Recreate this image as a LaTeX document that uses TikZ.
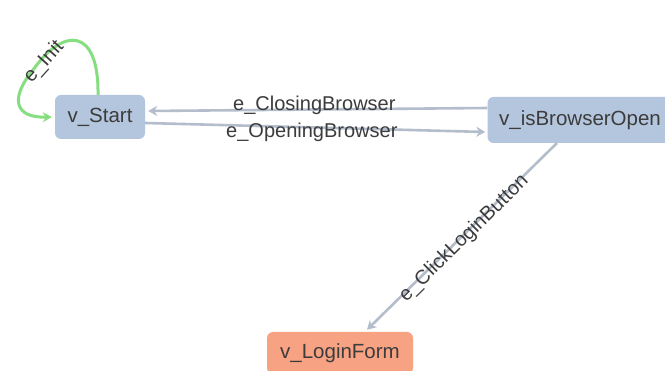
\documentclass[tikz,border=0pt]{standalone}
\usepackage{fontspec}
\setmainfont{Liberation Sans}
\usetikzlibrary{arrows.meta,calc}
\definecolor{vblue}{HTML}{B4C6DD}
\definecolor{vorange}{HTML}{F7A282}
\definecolor{edgegrey}{HTML}{B3BDCB}
\definecolor{initgreen}{HTML}{86DE80}
\definecolor{labelgrey}{HTML}{3C3C3C}
\tikzset{
  vertex/.style={rounded corners=6pt, inner sep=0pt, minimum height=44pt,
    text=labelgrey, font=\fontsize{20.5}{24}\selectfont},
  edge/.style={draw=edgegrey, line width=2.6pt, -{Stealth[length=9pt,width=10pt]}},
  initedge/.style={draw=initgreen, line width=3pt, -{Stealth[length=9pt,width=10pt]}},
  elabel/.style={text=labelgrey, font=\fontsize{20}{24}\selectfont, inner sep=0pt}
}
\begin{document}
\begin{tikzpicture}[x=1pt,y=-1pt]
  \useasboundingbox (0,0) rectangle (665,371);
  \fill[white] (0,0) rectangle (665,371);

  % states
  \node[vertex, fill=vblue, minimum width=90pt] (s) at (100,117) {v\_Start};
  \node[vertex, fill=vblue, minimum width=185pt, minimum height=46pt] (b) at (580,120) {v\_isBrowserOpen};
  \node[vertex, fill=vorange, minimum width=146pt, minimum height=42pt] (l) at (340,353) {v\_LoginForm};

  % self loop on the start state
  \coordinate (loopA) at (33,70);
  \draw[initedge] ([xshift=-2pt]s.north) .. controls (99,28) and (64,26) .. (loopA)
        .. controls (10,98) and (14,118) .. ([xshift=-3pt]s.west);
  \node[elabel, rotate=48] (init) at (44,62) {e\_Init};

  % transitions between start and browser states
  \draw[edge] ([yshift=12pt]b.west) -- ([yshift=6pt,xshift=3pt]s.east)
    node[elabel, pos=0.51, yshift=4pt] (close) {e\_ClosingBrowser};
  \draw[edge] ([yshift=-6pt]s.east) -- ([yshift=-12pt,xshift=-2pt]b.west)
    node[elabel, pos=0.49, yshift=-5pt] (open) {e\_OpeningBrowser};

  % transition to the login form
  \coordinate (clickStart) at (557,143);
  \draw[edge] (clickStart) -- ([xshift=27pt,yshift=2pt]l.north)
    node[elabel, pos=0.5, sloped, yshift=-3pt] (click) {e\_ClickLoginButton};
\end{tikzpicture}
\end{document}
